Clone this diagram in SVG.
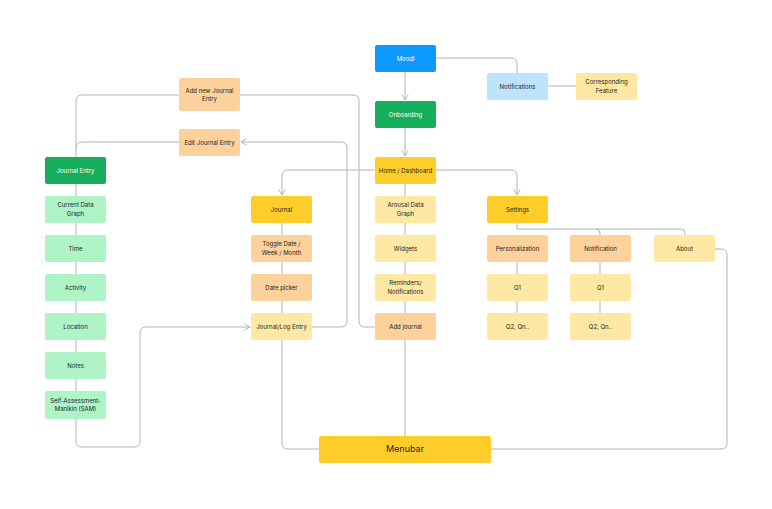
<svg xmlns="http://www.w3.org/2000/svg" width="772" height="509" viewBox="0 0 772 509">
<style>
text{font-family:Inter,"Liberation Sans",sans-serif;font-size:6px;fill:#1e1e1e;text-anchor:middle;dominant-baseline:middle}
.w{fill:#fff}
rect{rx:2;ry:2}
.c path{fill:none;stroke:#b3b3b3;stroke-width:1}
.blue{fill:#0d99ff}.lblue{fill:#bde3ff}.green{fill:#14ae5c}.lgreen{fill:#aff4c6}
.yel{fill:#ffcd29}.pyel{fill:#ffe8a3}.org{fill:#fcd19c}
</style>
<defs><marker id="a" viewBox="0 0 10 10" refX="9" refY="5" markerWidth="8" markerHeight="8" orient="auto"><path d="M2 1L9 5L2 9" fill="none" stroke="#b3b3b3" stroke-width="1.2"/></marker></defs>
<rect width="772" height="509" fill="#fff"/>
<g class="c">
<path d="M405 72V100" marker-end="url(#a)"/>
<path d="M405 128V156" marker-end="url(#a)"/>
<path d="M436 58H511Q517 58 517 64V73"/>
<path d="M548 86H576"/>
<path d="M375 170H288Q282 170 282 176V195" marker-end="url(#a)"/>
<path d="M436 170H511Q517 170 517 176V195" marker-end="url(#a)"/>
<path d="M405 184V313"/>
<path d="M517 223V229H596Q600 229 600 233V235M596 229H681Q685 229 685 233V235"/>
<path d="M517 262V313M600 262V313"/>
<path d="M715 249H721Q727 249 727 255V443Q727 449 721 449H491"/>
<path d="M282 223V313"/>
<path d="M312 327H341Q347 327 347 321V148Q347 142 341 142H241" marker-end="url(#a)"/>
<path d="M375 327H365Q359 327 359 321V101Q359 95 353 95H240"/>
<path d="M179 95H82Q76 95 76 101V157M179 142H82Q76 142 76 148"/>
<path d="M76 184V391"/>
<path d="M76 419V441Q76 447 82 447H134Q140 447 140 441V333Q140 327 146 327H250" marker-end="url(#a)"/>
<path d="M282 340V443Q282 449 288 449H319"/>
<path d="M405 340V436"/>
</g>
<g id="moodl"><rect class="blue" x="375" y="45" width="61" height="27"/><text class="w" x="405.5" y="59">Moodl</text></g>
<g id="notifications"><rect class="lblue" x="487" y="73" width="61" height="27"/><text x="517.5" y="87">Notifications</text></g>
<g id="corresponding"><rect class="pyel" x="576" y="73" width="61" height="27"/><text x="606.5" y="82.5">Corresponding</text><text x="606.5" y="91">Feature</text></g>
<g id="onboarding"><rect class="green" x="375" y="101" width="61" height="27"/><text class="w" x="405.5" y="115">Onboarding</text></g>
<g id="home"><rect class="yel" x="375" y="157" width="61" height="27"/><text x="405.5" y="171">Home / Dashboard</text></g>
<g id="arousal"><rect class="pyel" x="375" y="196" width="61" height="27"/><text x="405.5" y="205.5">Arousal Data</text><text x="405.5" y="214">Graph</text></g>
<g id="widgets"><rect class="pyel" x="375" y="235" width="61" height="27"/><text x="405.5" y="249">Widgets</text></g>
<g id="reminders"><rect class="pyel" x="375" y="274" width="61" height="27"/><text x="405.5" y="283.5">Reminders/</text><text x="405.5" y="292">Notifications</text></g>
<g id="addjournal"><rect class="org" x="375" y="313" width="61" height="27"/><text x="405.5" y="327">Add journal</text></g>
<g id="settings"><rect class="yel" x="487" y="196" width="61" height="27"/><text x="517.5" y="210">Settings</text></g>
<g id="personalization"><rect class="org" x="487" y="235" width="61" height="27"/><text x="517.5" y="249">Personalization</text></g>
<g id="notification"><rect class="org" x="570" y="235" width="61" height="27"/><text x="600.5" y="249">Notification</text></g>
<g id="about"><rect class="pyel" x="654" y="235" width="61" height="27"/><text x="684.5" y="249">About</text></g>
<g id="q1a"><rect class="pyel" x="487" y="274" width="61" height="27"/><text x="517.5" y="288">Q1</text></g>
<g id="q2a"><rect class="pyel" x="487" y="313" width="61" height="27"/><text x="517.5" y="327">Q2, Qn..</text></g>
<g id="q1b"><rect class="pyel" x="570" y="274" width="61" height="27"/><text x="600.5" y="288">Q1</text></g>
<g id="q2b"><rect class="pyel" x="570" y="313" width="61" height="27"/><text x="600.5" y="327">Q2, Qn..</text></g>
<g id="journal"><rect class="yel" x="251" y="196" width="61" height="27"/><text x="281.5" y="210">Journal</text></g>
<g id="toggle"><rect class="org" x="251" y="235" width="61" height="27"/><text x="281.5" y="244.5">Toggle Date /</text><text x="281.5" y="253">Week / Month</text></g>
<g id="datepicker"><rect class="org" x="251" y="274" width="61" height="27"/><text x="281.5" y="288">Date picker</text></g>
<g id="logentry"><rect class="pyel" x="251" y="313" width="61" height="27"/><text x="281.5" y="327">Journal/Log Entry</text></g>
<g id="addnew"><rect class="org" x="179" y="78" width="61" height="33"/><text x="209.5" y="91">Add new Journal</text><text x="209.5" y="99.5">Entry</text></g>
<g id="edit"><rect class="org" x="179" y="129" width="61" height="27"/><text x="209.5" y="143">Edit Journal Entry</text></g>
<g id="journalentry"><rect class="green" x="45" y="157" width="61" height="27"/><text class="w" x="75.5" y="171">Journal Entry</text></g>
<g id="currentgraph"><rect class="lgreen" x="45" y="196" width="61" height="27"/><text x="75.5" y="205.5">Current Data</text><text x="75.5" y="214">Graph</text></g>
<g id="time"><rect class="lgreen" x="45" y="235" width="61" height="27"/><text x="75.5" y="249">Time</text></g>
<g id="activity"><rect class="lgreen" x="45" y="274" width="61" height="27"/><text x="75.5" y="288">Activity</text></g>
<g id="location"><rect class="lgreen" x="45" y="313" width="61" height="27"/><text x="75.5" y="327">Location</text></g>
<g id="notes"><rect class="lgreen" x="45" y="352" width="61" height="27"/><text x="75.5" y="366">Notes</text></g>
<g id="sam"><rect class="lgreen" x="45" y="391" width="61" height="28"/><text x="75.5" y="401">Self-Assessment-</text><text x="75.5" y="409.5">Manikin (SAM)</text></g>
<g id="menubar"><rect class="yel" x="319" y="436" width="172" height="27"/><text x="405" y="450" style="font-size:9px">Menubar</text></g>
</svg>
